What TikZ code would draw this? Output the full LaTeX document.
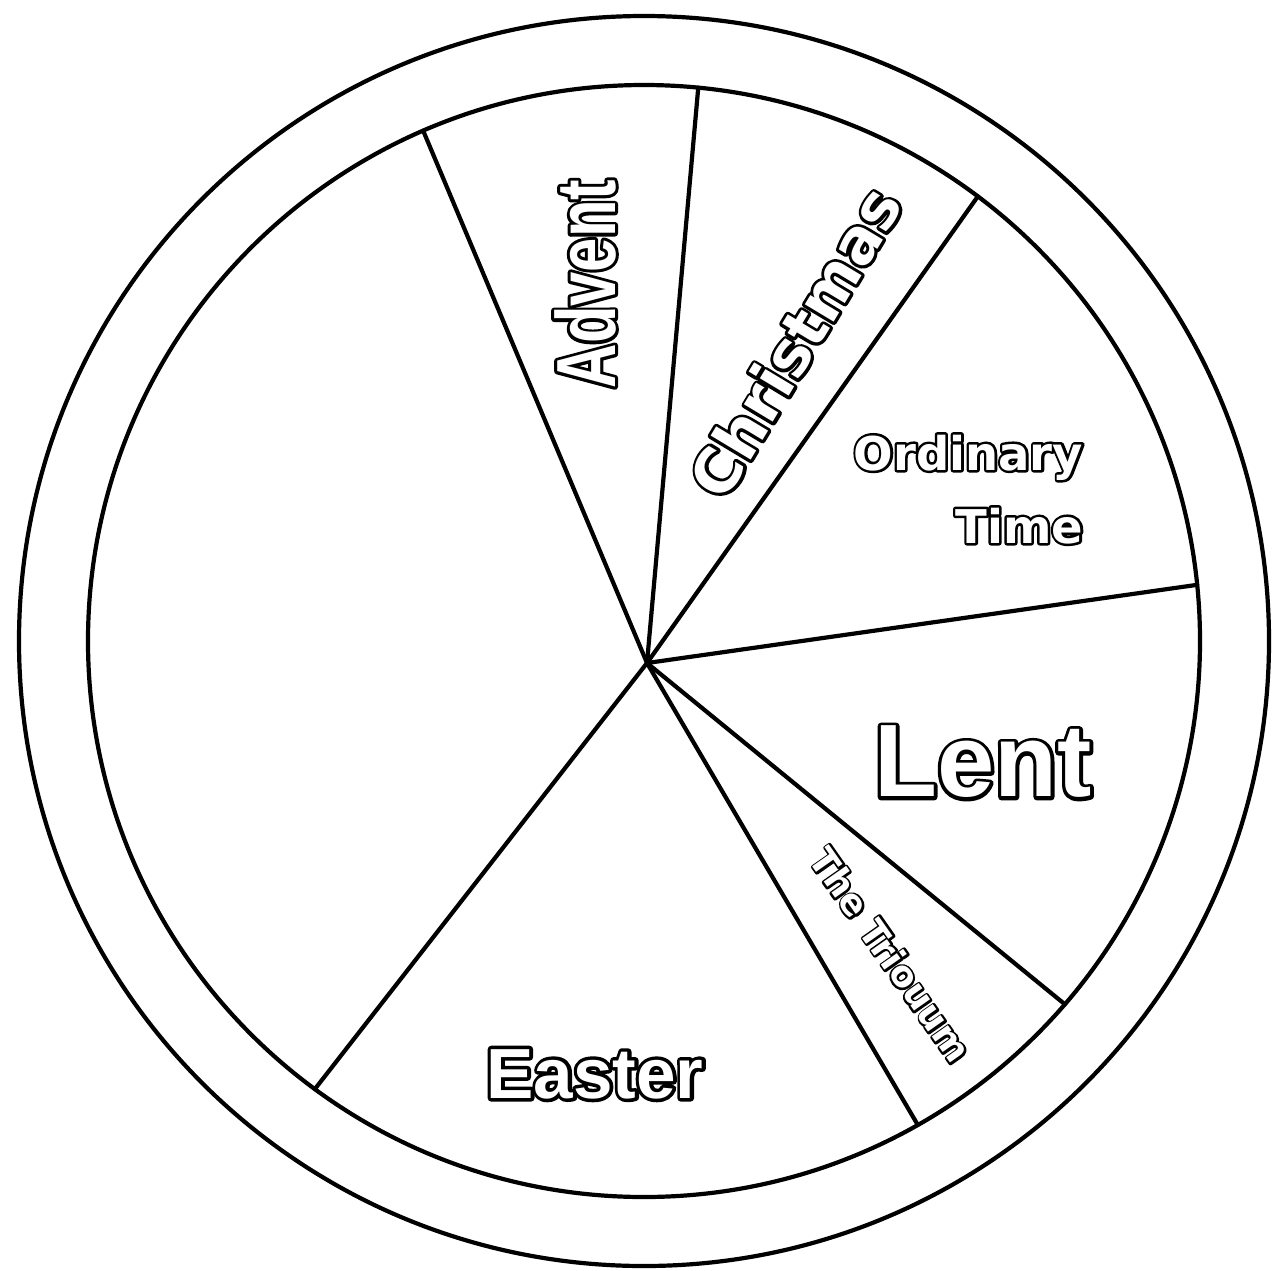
\documentclass[tikz,border=0pt]{standalone}
\usepackage{fontspec}
\setmainfont{Liberation Sans}
\newfontfamily\dvfont{DejaVu Sans}
\newfontfamily\adventfont[FakeStretch=0.733]{Liberation Sans Bold}
% white letters with a black rim outside them; #1 = twice the rim width
\newcommand\outlinetext[2][6]{%
  \rlap{\special{pdf:literal direct 2 Tr #1 w 1 j 0 G}#2\special{pdf:literal direct 0 Tr}}%
  {\color{white}#2}}
\begin{document}
\begin{tikzpicture}[x=1pt,y=1pt,
  rim/.style={line width=4.2pt},
  divider/.style={line width=4.2pt, line cap=round},
  seasonlabel/.style={inner sep=0pt, outer sep=0pt},
]
\useasboundingbox[fill=white] (0,0) rectangle (1272,-1270);
\coordinate (O) at (644,-641);
\coordinate (P) at (647,-663);
\draw[rim] (O) circle[radius=625];
\draw[rim] (O) circle[radius=556];
\foreach \n/\a in {A/113.4,B/84.4,C/53.1,D/5.8,E/-40.8,F/-60.5,G/-126.3}{
  \coordinate (\n) at ([shift={(\a:556)}]O);
}
\foreach \n in {A,B,C,D,E,F,G}{
  \draw[divider] (P) -- (\n);
}
\node[seasonlabel, rotate=90] (advent) at (585,-284)
  {\outlinetext[6]{\fontsize{84}{84}\selectfont\adventfont Advent}};
\node[seasonlabel, rotate=59] (christmas) at (795,-342)
  {\outlinetext[6]{\fontsize{61.5}{62}\selectfont\dvfont\bfseries Christmas}};
\node[seasonlabel, anchor=base east] (ordinary) at (1083,-470)
  {\outlinetext[5]{\fontsize{46.5}{47}\selectfont\dvfont\bfseries Ordinary}};
\node[seasonlabel, anchor=base east] (time) at (1083,-543)
  {\outlinetext[5]{\fontsize{46.5}{47}\selectfont\dvfont\bfseries Time}};
\node[seasonlabel] (lent) at (983,-762)
  {\outlinetext[7]{\fontsize{103}{103}\selectfont\bfseries Lent}};
\node[seasonlabel, rotate=-55] (triduum) at (891,-955)
  {\outlinetext[4]{\fontsize{36}{36}\selectfont\dvfont\bfseries The Triouum}};
\node[seasonlabel] (easter) at (595,-1074)
  {\outlinetext[7]{\fontsize{71}{71}\selectfont\bfseries Easter}};
\end{tikzpicture}
\end{document}
